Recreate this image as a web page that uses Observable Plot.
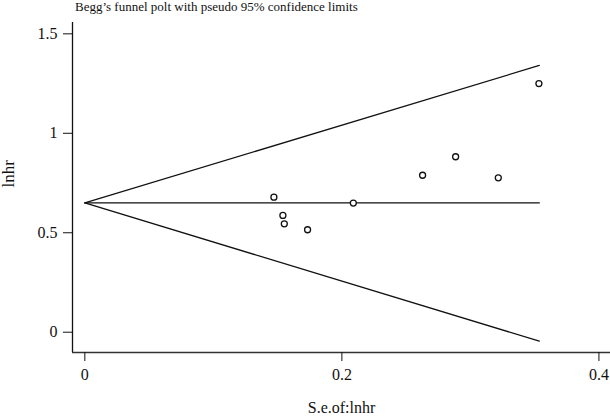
<!DOCTYPE html>
<html><head><meta charset="utf-8">
<script src="https://cdn.jsdelivr.net/npm/d3@7"></script>
<script src="https://cdn.jsdelivr.net/npm/@observablehq/plot@0.6"></script>
<style>
body{margin:0;background:#fff;}
#title{height:20px;box-sizing:border-box;padding-top:1px;font-family:"Liberation Serif",serif;font-size:13px;line-height:12px;padding-left:75px;color:#111;white-space:nowrap;}
svg text{font-family:"Liberation Serif",serif;}
</style></head><body>
<div id="title">Begg’s funnel polt with pseudo 95% confidence limits</div>
<div id="chart"></div>
<script>
const studySe    = [0.1471, 0.1541, 0.1552, 0.1733, 0.2089, 0.2628, 0.2885, 0.3217, 0.3533];
const studyLnhr  = [0.679, 0.587, 0.545, 0.515, 0.649, 0.789, 0.882, 0.776, 1.250];
const funnelSe     = [0, 0.3536];
const funnelUpper  = [0.65, 1.341];
const funnelCenter = [0.65, 0.65];
const funnelLower  = [0.65, -0.045];
const xTicks = [0, 0.2, 0.4];
const yTicks = [0, 0.5, 1, 1.5];
const xDomain = [-0.0096, 0.409];
const yDomain = [-0.102, 1.557];
const xTitle = "S.e.of:lnhr";
const yTitle = "lnhr";

const serif = '"Liberation Serif", serif';
const studies = studySe.map((se, i) => ({se, lnhr: studyLnhr[i]}));
const limits = [];
funnelSe.forEach((se, i) => {
  limits.push({se, v: funnelUpper[i], k: "upper"});
  limits.push({se, v: funnelCenter[i], k: "center"});
  limits.push({se, v: funnelLower[i], k: "lower"});
});

const chart = Plot.plot({
  width: 610,
  height: 396,
  marginLeft: 72,
  marginRight: 0,
  marginTop: 2,
  marginBottom: 64,
  style: {fontFamily: serif, fontSize: "15px", color: "#111", background: "#fff"},
  x: {domain: xDomain},
  y: {domain: yDomain},
  marks: [
    Plot.ruleX([xDomain[0]], {y1: yDomain[0], y2: yDomain[1], stroke: "#111", strokeWidth: 1.3}),
    Plot.ruleY([yDomain[0]], {stroke: "#333", strokeWidth: 1.5}),
    Plot.axisX(xTicks, {tickSize: 9, tickPadding: 7, tickFormat: d => String(d), label: null, fontSize: 16, fontFamily: serif, stroke: "#111"}),
    Plot.axisY(yTicks, {tickSize: 9, tickPadding: 6, tickFormat: d => String(d), label: null, fontSize: 16, fontFamily: serif, stroke: "#111"}),
    Plot.line(limits, {x: "se", y: "v", z: "k", stroke: "#111", strokeWidth: 1.3}),
    Plot.dot(studies, {x: "se", y: "lnhr", r: 3, stroke: "#111", strokeWidth: 1.3, fill: "#fff"}),
    Plot.text([xTitle], {frameAnchor: "bottom", dy: 55, fontSize: 16, fontFamily: serif, lineAnchor: "middle", fill: "#111"}),
    Plot.text([yTitle], {frameAnchor: "left", dx: -64, rotate: -90, fontSize: 17, fontFamily: serif, lineAnchor: "middle", fill: "#111"})
  ]
});
document.getElementById("chart").appendChild(chart);
</script>
</body></html>
